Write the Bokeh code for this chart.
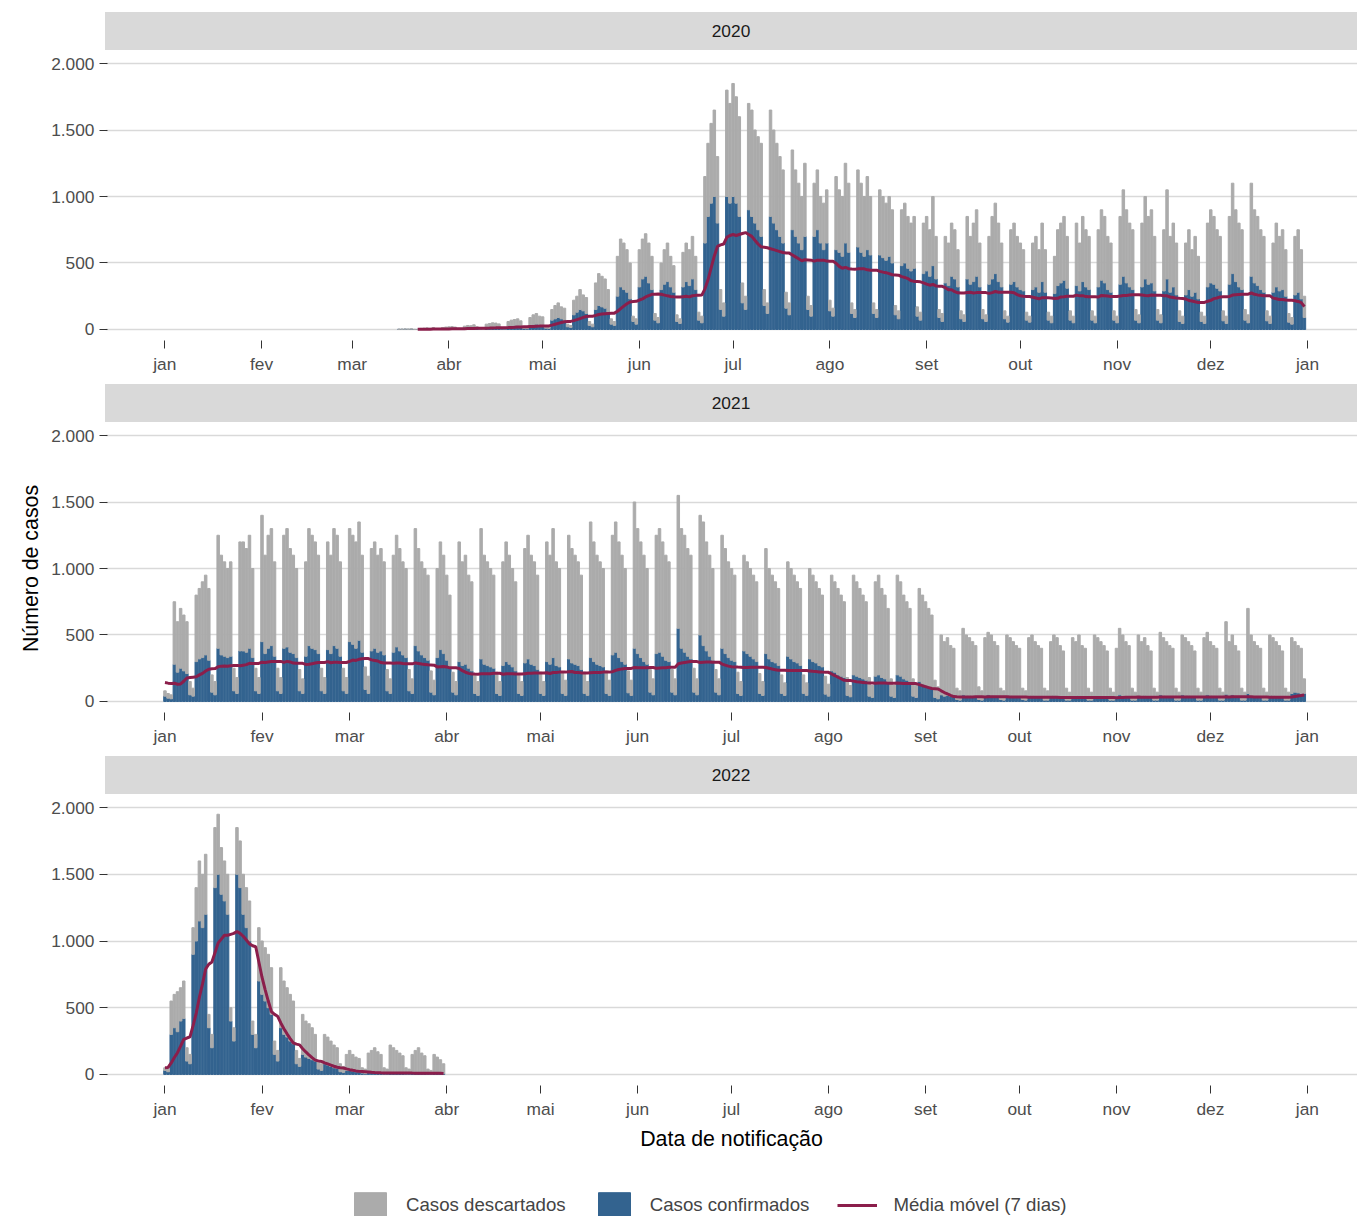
import pandas as pd
from bokeh.plotting import figure
from bokeh.layouts import column
from bokeh.models import Div, FixedTicker, Legend, LegendItem, Range1d
from bokeh.embed import file_html
from bokeh.resources import INLINE

# totais diários (descartados + confirmados) e confirmados, por semana
total_2020 = [
    2, 3, 4, 3, 5, 1, 1, 8, 10, 12, 9, 14, 3, 2, 15, 18, 20, 22, 18, 5, 4,
    25, 30, 28, 35, 20, 8, 6, 40, 45, 50, 48, 42, 12, 10, 60, 70, 75, 80, 65, 20, 15,
    90, 110, 120, 100, 95, 30, 20, 150, 180, 200, 170, 160, 40, 30,
    220, 250, 300, 260, 240, 60, 40, 350, 420, 400, 380, 300, 80, 60,
    550, 680, 650, 600, 500, 100, 80, 600, 680, 720, 650, 550, 120, 90,
    500, 600, 650, 550, 480, 110, 80, 580, 650, 600, 700, 550, 130, 100,
    1150, 1400, 1550, 1650, 1300, 300, 200, 1800, 1700, 1850, 1750, 1600, 350, 250,
    1700, 1650, 1500, 1450, 1400, 300, 200, 1650, 1500, 1400, 1300, 1200, 280, 200,
    1350, 1200, 1100, 1000, 1250, 250, 180, 1100, 1200, 1000, 950, 1050, 220, 160,
    1150, 1050, 1000, 1250, 1100, 200, 150, 1200, 1100, 1000, 1150, 1000, 200, 150,
    1050, 1000, 950, 1000, 900, 180, 140, 900, 950, 850, 800, 850, 170, 130,
    800, 850, 750, 1000, 700, 150, 120, 700, 650, 800, 750, 600, 140, 110,
    850, 700, 800, 900, 650, 150, 110, 700, 850, 950, 800, 650, 140, 100,
    750, 800, 700, 650, 600, 130, 100, 650, 700, 600, 800, 600, 130, 100,
    550, 750, 800, 850, 700, 140, 100, 800, 650, 850, 750, 700, 140, 100,
    750, 900, 850, 700, 650, 140, 100, 850, 1050, 900, 800, 750, 150, 110,
    800, 1000, 850, 900, 700, 150, 110, 750, 1050, 700, 800, 650, 140, 100,
    650, 750, 600, 700, 550, 130, 100, 800, 900, 850, 750, 700, 140, 100,
    850, 1100, 900, 800, 750, 150, 110, 1100, 900, 850, 750, 700, 140, 100,
    650, 800, 700, 750, 600, 120, 90, 700, 750, 600, 250,
]
conf_2020 = [
    1, 1, 2, 1, 2, 0, 0, 3, 4, 5, 4, 6, 1, 1, 5, 6, 8, 8, 7, 2, 1,
    10, 12, 11, 14, 8, 3, 2, 15, 18, 20, 19, 16, 5, 4, 20, 25, 28, 30, 24, 8, 6,
    30, 35, 40, 35, 30, 10, 8, 70, 80, 90, 80, 70, 20, 15,
    110, 130, 150, 140, 120, 30, 20, 150, 180, 170, 160, 130, 40, 30,
    250, 320, 300, 280, 230, 60, 40, 320, 380, 400, 350, 300, 70, 50,
    300, 340, 360, 320, 280, 60, 45, 320, 360, 330, 380, 300, 70, 50,
    650, 850, 950, 1000, 800, 150, 100, 1000, 950, 1000, 950, 850, 200, 150,
    900, 850, 800, 750, 700, 180, 120, 850, 800, 750, 700, 650, 160, 110,
    750, 700, 650, 600, 700, 150, 100, 700, 750, 650, 600, 650, 140, 100,
    600, 580, 550, 650, 580, 120, 90, 620, 580, 550, 600, 560, 120, 90,
    560, 540, 520, 550, 500, 110, 80, 480, 500, 460, 440, 460, 100, 70,
    420, 440, 400, 480, 380, 90, 60, 350, 330, 400, 380, 320, 80, 60,
    380, 340, 360, 400, 320, 80, 60, 340, 380, 420, 360, 320, 80, 55,
    340, 360, 320, 300, 290, 70, 55, 300, 320, 280, 360, 280, 70, 50,
    270, 330, 350, 370, 310, 70, 50, 330, 290, 360, 320, 300, 70, 50,
    320, 370, 350, 300, 280, 70, 50, 340, 400, 350, 320, 300, 70, 50,
    320, 380, 340, 350, 290, 70, 50, 290, 380, 280, 320, 260, 60, 45,
    260, 300, 250, 280, 230, 60, 45, 320, 350, 340, 310, 290, 65, 45,
    340, 420, 360, 320, 300, 70, 50, 400, 350, 330, 300, 280, 65, 45,
    280, 320, 290, 300, 250, 55, 40, 260, 280, 230, 90,
]
total_2021 = [
    80, 60, 50,
    750, 600, 700, 650, 600, 150, 100, 800, 850, 900, 950, 850, 200, 150,
    1250, 1100, 1050, 1000, 1050, 250, 180, 1200, 1200, 1150, 1250, 1000, 250, 180,
    1400, 1100, 1250, 1300, 1050, 250, 180, 1250, 1300, 1150, 1100, 1000, 240, 170,
    1050, 1300, 1250, 1200, 1100, 250, 180, 1200, 1100, 1300, 1250, 1050, 250, 180,
    1300, 1250, 1200, 1350, 1100, 260, 190, 1150, 1200, 1100, 1150, 1050, 240, 170,
    1100, 1250, 1150, 1050, 1000, 240, 170, 1300, 1150, 1050, 1000, 950, 230, 160,
    1000, 1200, 1100, 950, 800, 220, 150, 1200, 1050, 1100, 950, 900, 210, 150,
    1300, 1100, 1050, 1000, 950, 220, 150, 1050, 1200, 1100, 1000, 900, 210, 150,
    1150, 1250, 1100, 1050, 950, 220, 150, 1200, 1100, 1300, 1050, 1000, 220, 160,
    1250, 1150, 1100, 1050, 950, 220, 150, 1350, 1200, 1100, 1050, 1000, 230, 160,
    1250, 1350, 1200, 1100, 1000, 230, 160, 1500, 1300, 1200, 1100, 1000, 240, 170,
    1250, 1300, 1200, 1100, 1050, 240, 170, 1550, 1300, 1250, 1150, 1100, 250, 170,
    1400, 1350, 1200, 1100, 1000, 240, 170, 1250, 1150, 1050, 1000, 950, 220, 150,
    1100, 1050, 1000, 950, 900, 210, 150, 1150, 1000, 950, 900, 850, 200, 140,
    1050, 1000, 950, 900, 850, 200, 140, 1000, 950, 900, 850, 800, 190, 130,
    950, 900, 850, 800, 750, 180, 120, 950, 900, 850, 800, 750, 180, 120,
    900, 950, 850, 800, 700, 170, 120, 950, 900, 800, 750, 700, 170, 120,
    850, 800, 750, 700, 650, 160, 110, 500, 450, 480, 420, 400, 100, 80,
    550, 500, 480, 450, 420, 110, 80, 480, 520, 500, 450, 420, 100, 80,
    500, 480, 450, 420, 400, 100, 80, 480, 500, 450, 420, 400, 100, 80,
    450, 500, 480, 420, 380, 100, 70, 480, 450, 500, 420, 400, 100, 70,
    500, 480, 450, 420, 380, 100, 70, 400, 550, 500, 450, 420, 100, 70,
    500, 450, 480, 420, 380, 100, 70, 520, 480, 450, 420, 400, 100, 70,
    500, 480, 450, 420, 380, 100, 70, 480, 520, 450, 420, 400, 100, 70,
    600, 450, 500, 420, 380, 100, 70, 700, 500, 450, 420, 400, 100, 70,
    500, 480, 450, 420, 380, 100, 70, 480, 450, 420, 400, 170,
]
conf_2021 = [
    40, 25, 20,
    280, 220, 250, 230, 210, 50, 40, 300, 320, 330, 350, 310, 70, 50,
    400, 350, 340, 330, 340, 80, 60, 380, 380, 370, 400, 330, 80, 60,
    450, 360, 400, 420, 340, 80, 60, 400, 410, 370, 360, 330, 80, 60,
    340, 420, 400, 390, 360, 80, 60, 390, 360, 420, 400, 340, 80, 60,
    450, 430, 400, 460, 370, 90, 60, 380, 400, 370, 380, 350, 80, 60,
    370, 410, 380, 350, 330, 80, 60, 420, 380, 350, 330, 310, 70, 50,
    330, 390, 360, 310, 260, 70, 50, 300, 270, 280, 250, 230, 60, 45,
    320, 280, 270, 260, 250, 60, 45, 270, 300, 280, 260, 230, 60, 45,
    290, 320, 280, 270, 240, 60, 45, 300, 280, 330, 270, 260, 60, 45,
    320, 290, 280, 270, 240, 60, 45, 330, 300, 280, 270, 260, 60, 45,
    350, 370, 330, 300, 280, 65, 45, 400, 360, 330, 300, 280, 70, 50,
    360, 370, 340, 310, 300, 70, 50, 550, 400, 370, 340, 320, 70, 50,
    500, 420, 380, 340, 310, 70, 50, 400, 360, 330, 310, 300, 60, 45,
    380, 360, 340, 320, 300, 60, 45, 360, 320, 300, 290, 270, 60, 45,
    340, 320, 300, 290, 270, 60, 45, 320, 300, 290, 270, 260, 55, 40,
    230, 220, 200, 190, 180, 45, 35, 200, 190, 180, 170, 160, 40, 30,
    190, 200, 180, 170, 150, 40, 30, 200, 190, 170, 160, 150, 40, 30,
    150, 130, 120, 110, 100, 30, 20, 50, 40, 45, 40, 35, 15, 10,
    50, 45, 45, 40, 40, 15, 10, 45, 50, 45, 40, 40, 15, 10,
    45, 45, 40, 40, 35, 15, 10, 40, 45, 40, 40, 35, 10, 10,
    40, 45, 40, 35, 35, 10, 10, 40, 40, 45, 35, 35, 10, 10,
    40, 40, 40, 35, 30, 10, 10, 35, 50, 45, 40, 35, 10, 10,
    45, 40, 45, 40, 35, 10, 10, 50, 45, 40, 40, 35, 10, 10,
    50, 45, 45, 40, 35, 10, 10, 45, 50, 45, 40, 35, 10, 10,
    55, 45, 50, 40, 35, 10, 10, 60, 45, 40, 40, 35, 10, 10,
    45, 45, 40, 40, 35, 10, 10, 60, 70, 65, 60, 60,
]
total_2022 = [
    50, 40,
    550, 600, 620, 650, 700, 200, 150, 1100, 1400, 1600, 1500, 1650, 450, 300,
    1850, 1950, 1700, 1600, 1500, 500, 350, 1850, 1750, 1500, 1400, 1300, 400, 300,
    1100, 1000, 950, 900, 800, 250, 180, 800, 700, 650, 600, 550, 180, 120,
    450, 400, 380, 350, 300, 100, 80, 300, 280, 250, 220, 200, 80, 60,
    150, 180, 150, 130, 120, 50, 40, 160, 180, 200, 170, 150, 50, 40,
    220, 200, 180, 160, 140, 50, 40, 150, 180, 200, 160, 140, 40, 30,
    150, 130, 110, 80,
]
conf_2022 = [
    30, 20,
    300, 350, 320, 400, 420, 100, 80, 900, 1000, 1150, 1100, 1200, 350, 200,
    1400, 1500, 1350, 1300, 1200, 400, 250, 1500, 1400, 1200, 1100, 1000, 300, 200,
    700, 600, 550, 500, 450, 150, 100, 350, 300, 280, 250, 230, 80, 60,
    150, 130, 120, 110, 100, 40, 30, 80, 70, 60, 50, 45, 20, 15,
    30, 30, 25, 20, 20, 10, 5, 15, 15, 15, 12, 10, 5, 5,
    15, 15, 12, 12, 10, 5, 5, 10, 12, 12, 10, 10, 5, 5,
    10, 8, 8, 5,
]
starts = {2020: "2020-03-16", 2021: "2021-01-01", 2022: "2022-01-01"}
months = ["jan", "fev", "mar", "abr", "mai", "jun", "jul", "ago", "set", "out", "nov", "dez", "jan"]
y_ticks = [0, 500, 1000, 1500, 2000]
y_labels = ["0", "500", "1.000", "1.500", "2.000"]

GREY = "#ABABAB"
BLUE = "#33638F"
RED = "#8B1E4B"
DAY = 86400000

frames = []
for yr, tot, conf in [(2020, total_2020, conf_2020), (2021, total_2021, conf_2021), (2022, total_2022, conf_2022)]:
    n = min(len(tot), len(conf))
    df = pd.DataFrame({"date": pd.date_range(starts[yr], periods=n), "total": tot[:n], "conf": conf[:n]})
    df["year"] = yr
    frames.append(df)
data = pd.concat(frames, ignore_index=True)
data["desc"] = (data["total"] - data["conf"]).clip(lower=0)
data["ma"] = data["conf"].rolling(7).mean()

FONT = "Liberation Sans"
W = 1357
LEFT = 105
blocks = []
for i, yr in enumerate([2020, 2021, 2022]):
    d = data[data["year"] == yr]
    strip = Div(text=str(yr), width=W - LEFT, height=38,
                margin=(12 if i == 0 else 0, 0, 0, LEFT),
                styles={"background-color": "#D9D9D9", "text-align": "center",
                        "line-height": "38px", "font-size": "13pt", "color": "#1A1A1A",
                        "font-family": FONT})
    last = i == 2
    p = figure(width=W, height=359 if last else 334, x_axis_type="datetime",
               output_backend="svg", toolbar_location=None,
               min_border_left=LEFT, min_border_right=0, min_border_top=0,
               min_border_bottom=0 if last else 42)
    p.x_range = Range1d(pd.Timestamp(f"{yr - 1}-12-13"), pd.Timestamp(f"{yr + 1}-01-17"))
    p.y_range = Range1d(-98, 2098)
    p.vbar(x=d["date"], width=0.8 * DAY, bottom=0, top=d["conf"], color=BLUE)
    p.vbar(x=d["date"], width=0.8 * DAY, bottom=d["conf"], top=d["conf"] + d["desc"], color=GREY)
    dm = d.dropna(subset=["ma"])
    p.line(dm["date"], dm["ma"], color=RED, line_width=3)
    mticks = [pd.Timestamp(f"{yr}-{m:02d}-01") for m in range(1, 13)] + [pd.Timestamp(f"{yr + 1}-01-01")]
    tvals = [t.value // 10**6 for t in mticks]
    p.xaxis.ticker = FixedTicker(ticks=tvals)
    p.xaxis.major_label_overrides = {v: lab for v, lab in zip(tvals, months)}
    p.yaxis.ticker = FixedTicker(ticks=y_ticks)
    p.yaxis.major_label_overrides = {v: lab for v, lab in zip(y_ticks, y_labels)}
    for ax in [p.xaxis, p.yaxis]:
        ax.axis_line_color = None
        ax.major_tick_line_color = "#333333"
        ax.minor_tick_line_color = None
        ax.major_label_text_font = FONT
        ax.major_label_text_font_size = "13pt"
        ax.major_label_text_color = "#4D4D4D"
        ax.axis_label_text_font = FONT
        ax.axis_label_text_font_style = "normal"
        ax.axis_label_text_font_size = "16pt"
        ax.axis_label_text_color = "#000000"
    p.xgrid.grid_line_color = None
    p.ygrid.grid_line_color = "#D9D9D9"
    p.ygrid.grid_line_width = 1.5
    p.outline_line_color = None
    if yr == 2021:
        p.yaxis.axis_label = "Número de casos"
    if last:
        p.xaxis.axis_label = "Data de notificação"
    blocks += [strip, p]

# legenda em figura separada
lg = figure(width=W, height=64, output_backend="svg", toolbar_location=None,
            x_range=(0, 1), y_range=(0, 1), min_border=0)
lg.axis.visible = False
lg.grid.visible = False
lg.outline_line_color = None
r1 = lg.quad(left=[-5], right=[-4], bottom=[-5], top=[-4], color=GREY)
r2 = lg.quad(left=[-5], right=[-4], bottom=[-5], top=[-4], color=BLUE)
r3 = lg.line([-5, -6], [-5, -6], color=RED, line_width=3)
legend = Legend(items=[LegendItem(label="Casos descartados", renderers=[r1]),
                       LegendItem(label="Casos confirmados", renderers=[r2]),
                       LegendItem(label="Média móvel (7 dias)", renderers=[r3])],
                orientation="horizontal", location=(245, -4),
                glyph_width=40, glyph_height=32, label_text_font=FONT,
                label_text_font_size="14pt", spacing=28, label_standoff=16,
                padding=0, margin=0,
                border_line_color=None, background_fill_alpha=0)
lg.add_layout(legend, "center")
blocks.append(lg)

layout = column(blocks, spacing=0)
open("out.html", "w").write(file_html(layout, INLINE))
